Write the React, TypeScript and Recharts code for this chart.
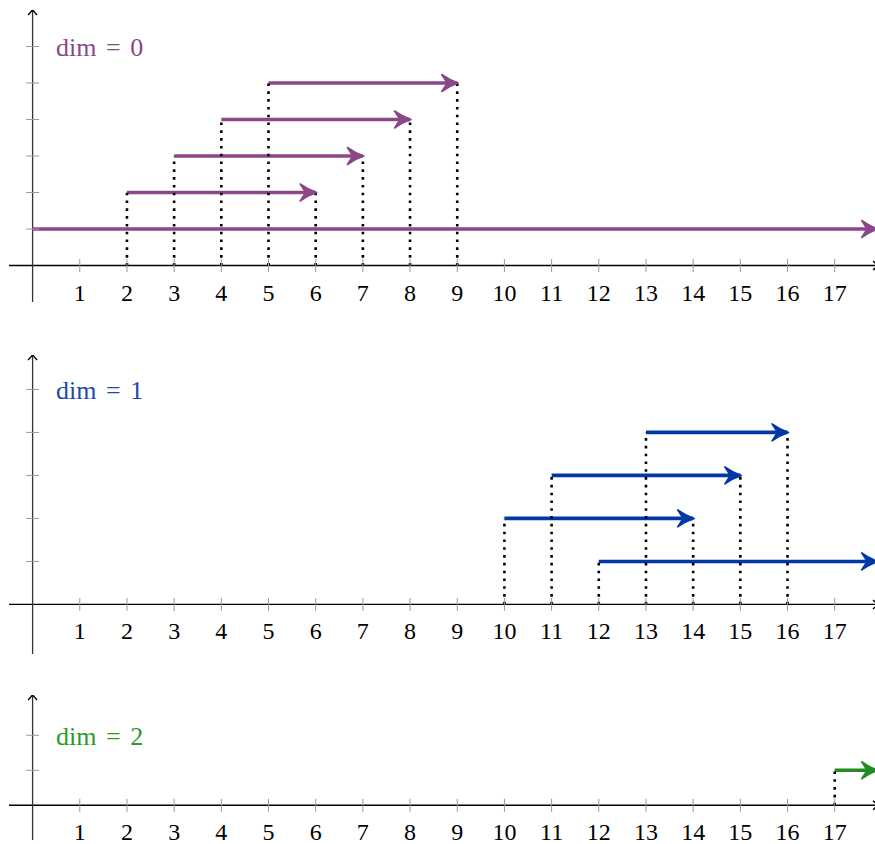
import React from 'react';
import { ComposedChart, Line, Scatter, XAxis, YAxis } from 'recharts';

// shared x axis
const xTicks = [1, 2, 3, 4, 5, 6, 7, 8, 9, 10, 11, 12, 13, 14, 15, 16, 17];
const X_MIN = -0.5;
const X_MAX = 17.96;
const AXIS_END = 17.92;
const INF_END = 17.9;

// dim = 0 barcode (null death = infinite bar)
const dim0Births = [0, 2, 3, 4, 5];
const dim0Deaths = [null, 6, 7, 8, 9];
const dim0Levels = [1, 2, 3, 4, 5];
const dim0YTicks = [1, 2, 3, 4, 5, 6];

// dim = 1 barcode
const dim1Births = [12, 10, 11, 13];
const dim1Deaths = [null, 14, 15, 16];
const dim1Levels = [1, 2, 3, 4];
const dim1YTicks = [1, 2, 3, 4, 5];

// dim = 2 barcode
const dim2Births = [17];
const dim2Deaths = [null];
const dim2Levels = [1];
const dim2YTicks = [1, 2];

const FONT = '"Liberation Serif", "DejaVu Serif", serif';

const barArrow = (color: string) => (p: any) => {
  const { cx, cy, index } = p;
  if (index !== 1 || cx == null) return <g key={`d-${index}`} />;
  const d = `M${cx + 1},${cy} Q${cx - 7},${cy - 2.5} ${cx - 15.5},${cy - 8.5} L${cx - 10},${cy} L${cx - 15.5},${cy + 8.5} Q${cx - 7},${cy + 2.5} ${cx + 1},${cy} Z`;
  return <path key={`d-${index}`} d={d} fill={color} stroke={color} strokeWidth={1.6} strokeLinejoin="round" />;
};

const axisArrow = (dir: 'right' | 'up') => (p: any) => {
  const { cx, cy, index } = p;
  if (index !== 1 || cx == null) return <g key={`a-${index}`} />;
  const d =
    dir === 'right'
      ? `M${cx - 5},${cy - 4.5} Q${cx - 1.5},${cy - 1} ${cx + 0.5},${cy} Q${cx - 1.5},${cy + 1} ${cx - 5},${cy + 4.5}`
      : `M${cx - 4.5},${cy + 5} Q${cx - 1},${cy + 1.5} ${cx},${cy - 0.5} Q${cx + 1},${cy + 1.5} ${cx + 4.5},${cy + 5}`;
  return <path key={`a-${index}`} d={d} fill="none" stroke="#000" strokeWidth={1.4} />;
};

interface PanelProps {
  births: number[];
  deaths: (number | null)[];
  levels: number[];
  yTicks: number[];
  yDomain: [number, number];
  color: string;
  textColor: string;
  label: string;
  top: number;
  height: number;
}

const Panel = ({ births, deaths, levels, yTicks, yDomain, color, textColor, label, top, height }: PanelProps) => {
  const pad = 12;
  const bars = births.map((b, i) => ({
    b,
    e: deaths[i] == null ? INF_END : (deaths[i] as number),
    finite: deaths[i] != null,
    level: levels[i],
  }));
  const xTickData = xTicks.map((x) => ({ x, y: 0 }));
  const yTickData = yTicks.map((y) => ({ x: 0, y }));
  const labelData = [{ x: 0, y: yTicks[yTicks.length - 1] }];

  return (
    <div style={{ position: 'absolute', left: 9, top: top - pad }}>
      <ComposedChart
        width={871}
        height={height + pad * 2}
        margin={{ top: pad, right: 0, bottom: pad, left: 0 }}
      >
        <XAxis dataKey="x" type="number" domain={[X_MIN, X_MAX]} allowDataOverflow hide />
        <YAxis dataKey="y" type="number" domain={yDomain} allowDataOverflow hide />

        {/* axes */}
        <Line
          data={[{ x: X_MIN, y: 0 }, { x: AXIS_END, y: 0 }]}
          dataKey="y"
          stroke="#000"
          strokeWidth={1.3}
          dot={axisArrow('right')}
          activeDot={false}
          isAnimationActive={false}
        />
        <Line
          data={[{ x: 0, y: yDomain[0] }, { x: 0, y: yDomain[1] }]}
          dataKey="y"
          stroke="#333"
          strokeWidth={1.3}
          dot={axisArrow('up')}
          activeDot={false}
          isAnimationActive={false}
        />

        {/* tick marks + labels */}
        <Scatter
          data={xTickData}
          isAnimationActive={false}
          shape={(p: any) => (
            <g>
              <line x1={p.cx} x2={p.cx} y1={p.cy - 6.5} y2={p.cy + 6.5} stroke="#999" strokeWidth={1} />
              <text x={p.cx} y={p.cy + 35} textAnchor="middle" style={{ fontFamily: FONT }} fontSize={24} fill="#000">
                {p.payload.x}
              </text>
            </g>
          )}
        />
        <Scatter
          data={yTickData}
          isAnimationActive={false}
          shape={(p: any) => (
            <line x1={p.cx - 6.5} x2={p.cx + 6.5} y1={p.cy} y2={p.cy} stroke="#999" strokeWidth={1} />
          )}
        />
        <Scatter
          data={labelData}
          isAnimationActive={false}
          shape={(p: any) => (
            <text x={p.cx + 23.5} y={p.cy + 9.5} style={{ fontFamily: FONT }} fontSize={26} fill={textColor} wordSpacing={3}>
              {label}
            </text>
          )}
        />

        {/* bars */}
        {bars.map((bar, i) => (
          <Line
            key={`bar-${i}`}
            data={[{ x: bar.b, y: bar.level }, { x: bar.e, y: bar.level }]}
            dataKey="y"
            stroke={color}
            strokeWidth={3.6}
            dot={barArrow(color)}
            activeDot={false}
            isAnimationActive={false}
          />
        ))}

        {/* dotted guides */}
        {bars
          .filter((bar) => bar.b > 0)
          .map((bar, i) => (
            <Line
              key={`gs-${i}`}
              data={[{ x: bar.b, y: 0 }, { x: bar.b, y: bar.level }]}
              dataKey="y"
              stroke="#000"
              strokeWidth={2.6}
              strokeDasharray="2.6 5.2"
              dot={false}
              activeDot={false}
              isAnimationActive={false}
            />
          ))}
        {bars
          .filter((bar) => bar.finite)
          .map((bar, i) => (
            <Line
              key={`ge-${i}`}
              data={[{ x: bar.e, y: 0 }, { x: bar.e, y: bar.level }]}
              dataKey="y"
              stroke="#000"
              strokeWidth={2.6}
              strokeDasharray="2.6 5.2"
              dot={false}
              activeDot={false}
              isAnimationActive={false}
            />
          ))}
      </ComposedChart>
    </div>
  );
};

export default function App() {
  return (
    <div
      style={{
        position: 'absolute',
        left: 0,
        top: 0,
        width: 875,
        height: 844,
        overflow: 'hidden',
        background: '#fff',
      }}
    >
      <Panel
        births={dim0Births}
        deaths={dim0Deaths}
        levels={dim0Levels}
        yTicks={dim0YTicks}
        yDomain={[-1, 7]}
        color="#8B4789"
        textColor="#8B4789"
        label="dim = 0"
        top={10}
        height={292}
      />
      <Panel
        births={dim1Births}
        deaths={dim1Deaths}
        levels={dim1Levels}
        yTicks={dim1YTicks}
        yDomain={[-1.15, 5.8]}
        color="#0038A8"
        textColor="#1A4BA8"
        label="dim = 1"
        top={354.6}
        height={298.9}
      />
      <Panel
        births={dim2Births}
        deaths={dim2Deaths}
        levels={dim2Levels}
        yTicks={dim2YTicks}
        yDomain={[-1, 3.15]}
        color="#228B22"
        textColor="#2A9A2A"
        label="dim = 2"
        top={694.75}
        height={145.25}
      />
    </div>
  );
}
